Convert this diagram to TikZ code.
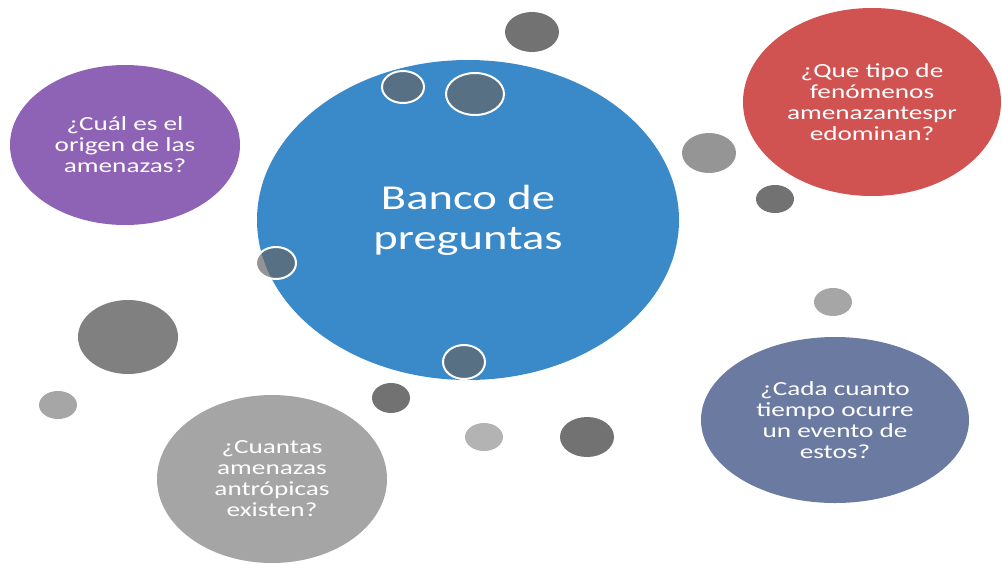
\documentclass[tikz,border=0pt]{standalone}
\usepackage{fontspec}
\setmainfont{Carlito}
\usepackage{xcolor}
\usepackage{tikz}
\usetikzlibrary{
  shapes.geometric
}
\tikzset{
  bubble/.style={ellipse,inner sep=0pt,draw=none},
  dot/.style={ellipse,inner sep=0pt,draw=none},
  glass dot/.style={ellipse,inner sep=0pt,draw=white,line width=2pt,
    fill=glassgray,fill opacity=.7},
  title text/.style={text=white,align=center,xscale=1.33,transform shape,
    font=\fontsize{35}{40}\selectfont},
  question text/.style={text=white,align=center,xscale=1.36,transform shape,
    font=\fontsize{20}{21}\selectfont}
}
\definecolor{bankblue}{HTML}{3A89C9}
\definecolor{originpurple}{HTML}{8E62B4}
\definecolor{typered}{HTML}{D05352}
\definecolor{timeslate}{HTML}{6A7AA0}
\definecolor{countgray}{HTML}{A5A5A5}
\definecolor{glassgray}{HTML}{666666}
\definecolor{darkdot}{HTML}{727272}
\definecolor{middot}{HTML}{808080}
\definecolor{lightdot}{HTML}{A6A6A6}

\begin{document}
\begin{tikzpicture}[x=1pt,y=-1pt]
  \useasboundingbox (0,0) rectangle (1002,563);

  % loose dots
  \node[dot,fill=darkdot,minimum width=54pt,minimum height=40pt] (dottop) at (532,32) {};
  \node[dot,fill=lightdot!90!black,minimum width=54pt,minimum height=40pt] (dotright) at (709,153) {};
  \node[dot,fill=darkdot,minimum width=38pt,minimum height=28pt] (dotrightsmall) at (775,199) {};
  \node[dot,fill=lightdot,minimum width=38pt,minimum height=28pt] (dotlower) at (833,302) {};
  \node[dot,fill=middot,minimum width=100pt,minimum height=74pt] (dotleft) at (128,337) {};
  \node[dot,fill=lightdot,minimum width=38pt,minimum height=28pt] (dotleftsmall) at (58,405) {};
  \node[dot,fill=darkdot,minimum width=38pt,minimum height=30pt] (dotunder) at (391,398) {};
  \node[dot,fill=lightdot!85!white,minimum width=38pt,minimum height=28pt] (dotpale) at (484,437) {};
  \node[dot,fill=darkdot,minimum width=54pt,minimum height=40pt] (dotbottom) at (587,437) {};

  % question bubbles
  \node[bubble,fill=bankblue,minimum width=422pt,minimum height=320pt] (bank) at (468,220) {};
  \node[bubble,fill=originpurple,minimum width=230pt,minimum height=160pt] (origin) at (125,145) {};
  \node[bubble,fill=typered,minimum width=258pt,minimum height=188pt] (type) at (872,102) {};
  \node[bubble,fill=timeslate,minimum width=268pt,minimum height=166pt] (time) at (835,420) {};
  \node[bubble,fill=countgray,minimum width=230pt,minimum height=168pt] (count) at (272,479) {};

  % dots sitting on the big bubble
  \node[glass dot,minimum width=42pt,minimum height=32pt] (glassleft) at (403,87) {};
  \node[glass dot,minimum width=58pt,minimum height=42pt] (glassright) at (475,94) {};
  \node[glass dot,minimum width=40pt,minimum height=32pt] (glassside) at (276,263) {};
  \node[glass dot,minimum width=42pt,minimum height=34pt] (glassbottom) at (464,362) {};

  \node[title text] (banktext) at (bank) {Banco de\\preguntas};
  \node[question text] (origintext) at (origin) {¿Cuál es el\\origen de las\\amenazas?};
  \node[question text] (typetext) at (type) {¿Que tipo de\\fenómenos\\amenazantespr\\edominan?};
  \node[question text] (timetext) at (time) {¿Cada cuanto\\tiempo ocurre\\un evento de\\estos?};
  \node[question text] (counttext) at (count) {¿Cuantas\\amenazas\\antrópicas\\existen?};
\end{tikzpicture}
\end{document}
